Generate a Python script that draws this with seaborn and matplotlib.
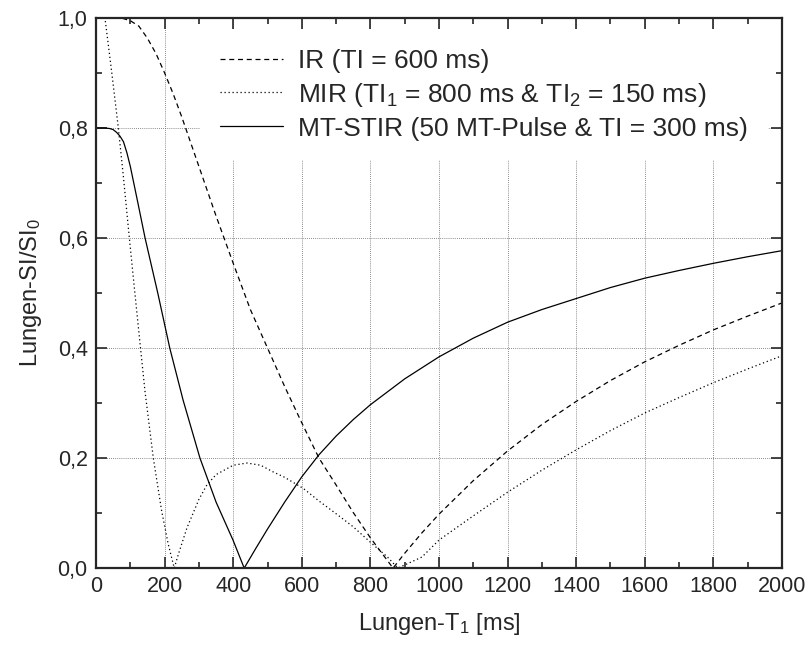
import numpy as np
import pandas as pd
import matplotlib
matplotlib.use('Agg')
import matplotlib.pyplot as plt
from matplotlib.ticker import MultipleLocator, FuncFormatter
import seaborn as sns

# values
ir_t1 = [0, 25, 50, 75, 100, 125, 150, 175, 200, 225, 250, 300, 350, 400, 450, 500, 550, 600,
         650, 700, 750, 800, 866, 900, 950, 1000, 1100, 1200, 1300, 1400, 1500, 1600, 1700,
         1800, 1900, 2000]
ir_si = [1.0, 1.0, 1.0, 0.9997, 0.995, 0.985, 0.963, 0.935, 0.90, 0.862, 0.82, 0.73, 0.64,
         0.554, 0.47, 0.40, 0.33, 0.264, 0.20, 0.151, 0.101, 0.055, 0.0, 0.027, 0.064, 0.098,
         0.159, 0.213, 0.261, 0.303, 0.341, 0.375, 0.405, 0.433, 0.458, 0.482]

mir_t1 = [0, 26, 46, 65, 80, 94, 110, 128, 143, 167, 191, 210, 228, 240, 265, 300, 323, 350,
          400, 440, 480, 516, 550, 604, 650, 706, 750, 800, 850, 880, 950, 1000, 1100, 1200,
          1300, 1400, 1500, 1600, 1700, 1800, 1900, 2000]
mir_si = [1.0, 1.0, 0.90, 0.80, 0.71, 0.62, 0.52, 0.41, 0.32, 0.20, 0.105, 0.045, 0.0, 0.025,
          0.073, 0.125, 0.151, 0.17, 0.187, 0.191, 0.187, 0.175, 0.165, 0.145, 0.122, 0.096,
          0.075, 0.047, 0.02, 0.0, 0.02, 0.051, 0.095, 0.138, 0.178, 0.215, 0.25, 0.282, 0.31,
          0.337, 0.362, 0.386]

mt_t1 = [0, 25, 40, 50, 60, 70, 80, 90, 100, 110, 120, 143, 180, 215, 254, 303, 350, 400, 432,
         466, 500, 550, 600, 650, 700, 750, 800, 900, 1000, 1100, 1200, 1300, 1400, 1500, 1600,
         1700, 1800, 1900, 2000]
mt_si = [0.80, 0.80, 0.799, 0.797, 0.792, 0.785, 0.775, 0.755, 0.73, 0.70, 0.67, 0.60, 0.50,
         0.40, 0.305, 0.20, 0.12, 0.05, 0.0, 0.036, 0.071, 0.12, 0.166, 0.206, 0.240, 0.270,
         0.297, 0.344, 0.384, 0.418, 0.447, 0.47, 0.49, 0.51, 0.527, 0.541, 0.554, 0.566, 0.577]

labels = ['IR (TI = 600 ms)',
          r'MIR (TI$_\mathregular{1}$ = 800 ms & TI$_\mathregular{2}$ = 150 ms)',
          'MT-STIR (50 MT-Pulse & TI = 300 ms)']

sns.set_style('ticks')
plt.rcParams['font.family'] = ['Liberation Sans', 'DejaVu Sans']
plt.rcParams['mathtext.default'] = 'regular'

fig = plt.figure(figsize=(8.07, 6.53), dpi=100)
ax = fig.add_axes([0.119, 0.130, 0.850, 0.8425])

sns.lineplot(x=ir_t1, y=ir_si, ax=ax, color='k', lw=0.9, linestyle=(0, (4, 3)), label=labels[0])
sns.lineplot(x=mir_t1, y=mir_si, ax=ax, color='k', lw=0.9, linestyle=(0, (1, 2.2)), label=labels[1])
sns.lineplot(x=mt_t1, y=mt_si, ax=ax, color='k', lw=0.9, linestyle='-', label=labels[2])

ax.set_xlim(0, 2000)
ax.set_ylim(0, 1.0)
ax.xaxis.set_major_locator(MultipleLocator(200))
ax.xaxis.set_minor_locator(MultipleLocator(100))
ax.yaxis.set_major_locator(MultipleLocator(0.2))
ax.yaxis.set_minor_locator(MultipleLocator(0.1))
ax.yaxis.set_major_formatter(FuncFormatter(lambda v, p: f'{v:.1f}'.replace('.', ',')))

ax.grid(True, which='major', linestyle=(0, (1, 1.5)), color='#666666', lw=0.6)
ax.set_axisbelow(True)
ax.tick_params(which='both', direction='in', top=True, right=True, width=1.2, labelsize=15.5, pad=6)
ax.tick_params(which='major', length=8)
ax.tick_params(which='minor', length=4)
for s in ax.spines.values():
    s.set_linewidth(1.6)

ax.set_xlabel(r'Lungen-T$_\mathregular{1}$ [ms]', fontsize=17, labelpad=10)
ax.set_ylabel(r'Lungen-SI/SI$_\mathregular{0}$', fontsize=17, labelpad=10)

leg = ax.legend(loc='upper left', bbox_to_anchor=(0.1516, 0.980), fontsize=19, frameon=True,
                fancybox=False, framealpha=1, edgecolor='white', facecolor='white',
                handlelength=2.4, handletextpad=0.57, labelspacing=0.3, borderpad=0.75,
                borderaxespad=0)
leg.get_frame().set_linewidth(0)

fig.savefig('out.png', dpi=100)
